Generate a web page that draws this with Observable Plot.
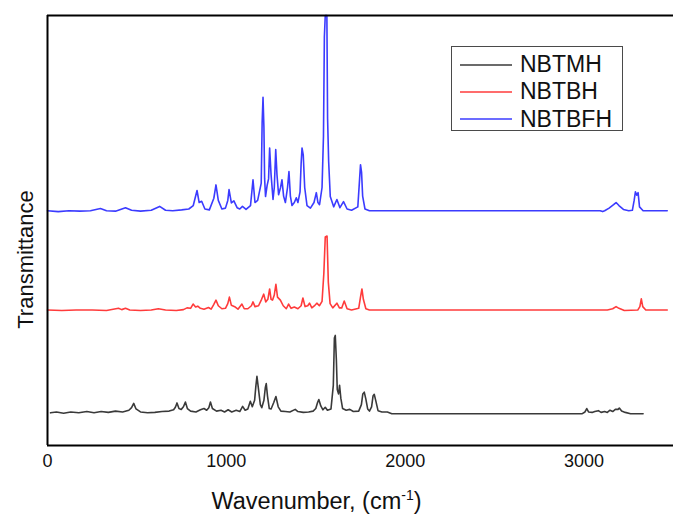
<!DOCTYPE html>
<html>
<head>
<meta charset="utf-8">
<script src="https://cdn.jsdelivr.net/npm/d3@7"></script>
<script src="https://cdn.jsdelivr.net/npm/@observablehq/plot@0.6"></script>
<style>
  body { margin: 0; background: #fff; }
  #chart { position: relative; width: 673px; height: 515px; font-family: "Liberation Sans", Arial, sans-serif; }
  #legend {
    position: absolute; left: 451px; top: 46px; width: 172px; height: 85px;
    box-sizing: border-box; border: 1.5px solid #4a4a4a; background: #fff;
    padding-top: 4px;
  }
  .row { display: flex; align-items: center; height: 27.3px; }
  .row svg { margin-left: 8px; margin-right: 8px; }
  .row span { font-size: 23px; color: #111; line-height: 1; }
</style>
</head>
<body>
<div id="chart"></div>
<script>
// FTIR spectra, [wavenumber (cm^-1), transmittance (a.u., offset per sample)]
const NBTMH = [
  [17,7.6],[50,7.8],[90,7.5],[130,7.8],[175,7.6],[220,7.9],[260,7.6],[300,7.9],[340,7.7],[380,8.0],
  [420,7.8],[455,8.2],[470,8.8],[482,9.8],[495,8.5],[520,7.8],[560,7.6],[600,7.7],[640,7.9],[680,8.0],
  [705,8.3],[715,8.9],[724,9.9],[735,8.6],[748,8.4],[760,9.0],[771,10.1],[782,8.6],[800,8.0],[830,7.8],
  [855,8.3],[875,8.6],[890,8.2],[902,8.8],[911,10.1],[922,8.6],[945,8.0],[970,8.2],[990,7.8],[1010,8.3],
  [1030,7.8],[1055,8.2],[1075,7.9],[1091,9.1],[1105,8.2],[1120,8.5],[1134,10.3],[1145,9.0],[1158,10.5],
  [1165,13.8],[1171,16.1],[1180,13.0],[1190,9.5],[1198,8.8],[1210,10.5],[1218,13.5],[1223,14.4],[1230,11.5],
  [1240,8.6],[1250,8.5],[1265,10.0],[1277,11.4],[1290,9.0],[1305,8.0],[1330,7.9],[1355,7.8],[1385,8.4],
  [1400,7.9],[1430,7.7],[1460,7.8],[1485,8.0],[1500,8.6],[1510,10.0],[1517,10.7],[1528,9.2],[1540,8.3],
  [1553,8.9],[1565,8.2],[1585,8.5],[1598,14.0],[1604,25.0],[1609,25.6],[1615,20.0],[1620,13.0],[1627,12.0],
  [1633,14.0],[1640,11.0],[1650,8.6],[1670,8.2],[1690,8.4],[1710,7.9],[1740,8.0],[1755,9.5],[1763,12.0],
  [1771,12.4],[1780,10.8],[1790,8.5],[1800,8.0],[1812,9.0],[1820,11.5],[1827,11.9],[1835,10.5],[1848,8.1],
  [1870,7.8],[1900,7.8],[1925,7.4],[2990,7.4],[3005,7.8],[3015,8.6],[3025,7.8],[3045,7.7],[3060,7.9],
  [3080,8.1],[3095,7.7],[3115,7.9],[3130,7.7],[3145,8.2],[3160,7.9],[3175,8.4],[3190,8.4],[3197,8.7],
  [3210,8.0],[3230,7.7],[3260,7.4],[3330,7.4]
];
const NBTBH = [
  [0,31.5],[80,31.4],[160,31.5],[250,31.5],[330,31.4],[397,31.9],[415,31.6],[436,31.9],[460,31.5],[520,31.4],
  [580,31.5],[620,31.8],[660,31.5],[720,31.4],[760,31.6],[780,32.0],[800,31.9],[814,32.9],[828,32.2],[840,32.4],
  [855,31.9],[875,31.7],[900,32.1],[915,31.7],[930,32.8],[942,33.8],[955,32.5],[975,31.8],[995,31.9],[1008,33.0],
  [1017,34.5],[1028,32.6],[1050,32.2],[1065,31.7],[1087,32.9],[1100,31.8],[1120,31.8],[1140,32.5],[1149,33.4],
  [1160,32.3],[1180,32.5],[1197,34.0],[1209,35.2],[1220,33.4],[1232,34.0],[1242,36.4],[1250,34.0],[1258,33.8],
  [1268,35.0],[1277,37.5],[1286,34.5],[1302,33.8],[1318,32.5],[1335,31.8],[1348,32.9],[1362,31.9],[1380,32.2],
  [1400,31.8],[1418,32.5],[1428,34.3],[1440,32.3],[1455,32.5],[1465,33.1],[1478,32.0],[1495,32.6],[1506,33.1],
  [1520,32.5],[1535,33.5],[1545,40.0],[1553,48.5],[1563,48.7],[1570,38.0],[1580,33.0],[1595,32.0],[1618,33.1],
  [1632,32.0],[1645,32.0],[1659,33.6],[1675,31.8],[1700,31.5],[1740,31.9],[1750,34.5],[1758,36.4],[1766,34.0],
  [1780,31.8],[1800,31.5],[3130,31.5],[3160,31.8],[3179,32.3],[3195,31.9],[3225,31.4],[3300,31.5],[3312,32.3],
  [3320,34.1],[3328,32.3],[3345,31.5],[3465,31.5]
];
const NBTBFH = [
  [0,54.6],[60,54.4],[120,54.6],[180,54.5],[240,54.6],[296,55.1],[330,54.6],[380,54.5],[436,55.3],[470,54.7],
  [520,54.5],[580,54.7],[627,55.6],[660,54.7],[700,54.6],[750,54.8],[790,55.0],[815,55.8],[836,59.3],[848,56.5],
  [862,56.8],[880,55.0],[905,54.8],[930,57.5],[942,60.6],[955,57.0],[975,55.0],[995,55.2],[1008,57.0],[1015,59.5],
  [1028,56.4],[1042,56.9],[1060,55.3],[1075,55.0],[1090,55.6],[1110,54.9],[1135,55.8],[1149,61.8],[1160,56.5],
  [1175,57.0],[1195,61.0],[1200,75.0],[1205,81.0],[1210,74.0],[1214,62.0],[1219,57.9],[1228,60.5],[1236,62.0],
  [1242,69.2],[1250,63.0],[1261,57.2],[1268,60.0],[1276,68.8],[1283,63.0],[1292,58.3],[1303,60.0],[1311,61.8],
  [1320,58.0],[1330,56.5],[1342,60.0],[1350,63.7],[1358,58.0],[1367,55.8],[1380,56.5],[1391,57.6],[1400,56.5],
  [1412,59.0],[1418,65.5],[1423,69.2],[1430,67.5],[1438,60.0],[1451,55.8],[1470,55.2],[1490,56.5],[1503,58.8],
  [1512,56.5],[1521,56.0],[1535,60.0],[1543,72.0],[1548,95.0],[1553,100],[1562,100],[1566,76.0],[1572,66.0],
  [1581,57.9],[1600,55.5],[1618,57.2],[1635,55.3],[1655,56.7],[1675,55.0],[1700,54.7],[1735,55.5],[1745,62.0],
  [1750,65.3],[1756,63.5],[1762,58.0],[1775,55.0],[1800,54.6],[3090,54.6],[3104,54.4],[3115,54.6],[3140,55.2],
  [3165,56.0],[3179,56.5],[3195,55.8],[3220,54.9],[3250,54.6],[3270,54.7],[3280,57.0],[3287,59.0],[3295,58.2],
  [3302,58.8],[3310,55.5],[3330,54.6],[3465,54.6]
];

const seriesNames = ["NBTMH", "NBTBH", "NBTBFH"];
const seriesColors = ["#3a3a3a", "#ff3b3b", "#3b3bff"];
const xTicks = [0, 1000, 2000, 3000];
const xTickLabels = ["0", "1000", "2000", "3000"];
const xTitle = "Wavenumber, (cm";
const yTitle = "Transmittance";

const rows = [];
[NBTMH, NBTBH, NBTBFH].forEach((s, k) =>
  s.forEach(([wn, t]) => rows.push({series: seriesNames[k], wn, t}))
);

const chart = Plot.plot({
  width: 673,
  height: 515,
  marginLeft: 47,
  marginRight: 0,
  marginTop: 15,
  marginBottom: 70,
  style: {fontFamily: '"Liberation Sans", Arial, sans-serif', fontSize: "18px", color: "#111", background: "white"},
  x: {domain: [0, 3500], ticks: xTicks, tickSize: 0, tickPadding: 9,
      tickFormat: d => xTickLabels[xTicks.indexOf(d)], label: null},
  y: {domain: [0, 100], axis: null},
  color: {domain: seriesNames, range: seriesColors},
  marks: [
    Plot.line(rows, {x: "wn", y: "t", z: "series", stroke: "series", strokeWidth: 1.6}),
    Plot.ruleX([0], {stroke: "#000", strokeWidth: 2}),
    Plot.ruleY([0], {stroke: "#000", strokeWidth: 2}),
    Plot.ruleY([100], {stroke: "#000", strokeWidth: 2}),
    Plot.text([yTitle], {text: d => d, frameAnchor: "left", textAnchor: "middle", rotate: -90,
      dx: -22, dy: 29, fontSize: 22, fill: "#111"}),
    Plot.text([xTitle], {text: d => d, frameAnchor: "bottom", textAnchor: "middle", lineAnchor: "bottom",
      dx: -44, dy: 63, fontSize: 23.5, fill: "#111"})
  ]
});

// superscript exponent on the x-axis title
d3.select(chart).selectAll("text")
  .filter(function () { return this.textContent === xTitle; })
  .each(function () {
    const t = d3.select(this);
    t.append("tspan").attr("dy", -9).attr("font-size", 14).text("-1");
    t.append("tspan").attr("dy", 9).text(")");
  });

const root = document.getElementById("chart");
root.appendChild(chart);

// legend
const legend = document.createElement("div");
legend.id = "legend";
seriesNames.forEach((name, i) => {
  const row = document.createElement("div");
  row.className = "row";
  const ns = "http://www.w3.org/2000/svg";
  const sw = document.createElementNS(ns, "svg");
  sw.setAttribute("width", 52);
  sw.setAttribute("height", 4);
  const ln = document.createElementNS(ns, "line");
  ln.setAttribute("x1", 0); ln.setAttribute("x2", 52);
  ln.setAttribute("y1", 2); ln.setAttribute("y2", 2);
  ln.setAttribute("stroke", seriesColors[i]);
  ln.setAttribute("stroke-width", 1.6);
  sw.appendChild(ln);
  const label = document.createElement("span");
  label.textContent = name;
  row.append(sw, label);
  legend.appendChild(row);
});
root.appendChild(legend);
</script>
</body>
</html>
